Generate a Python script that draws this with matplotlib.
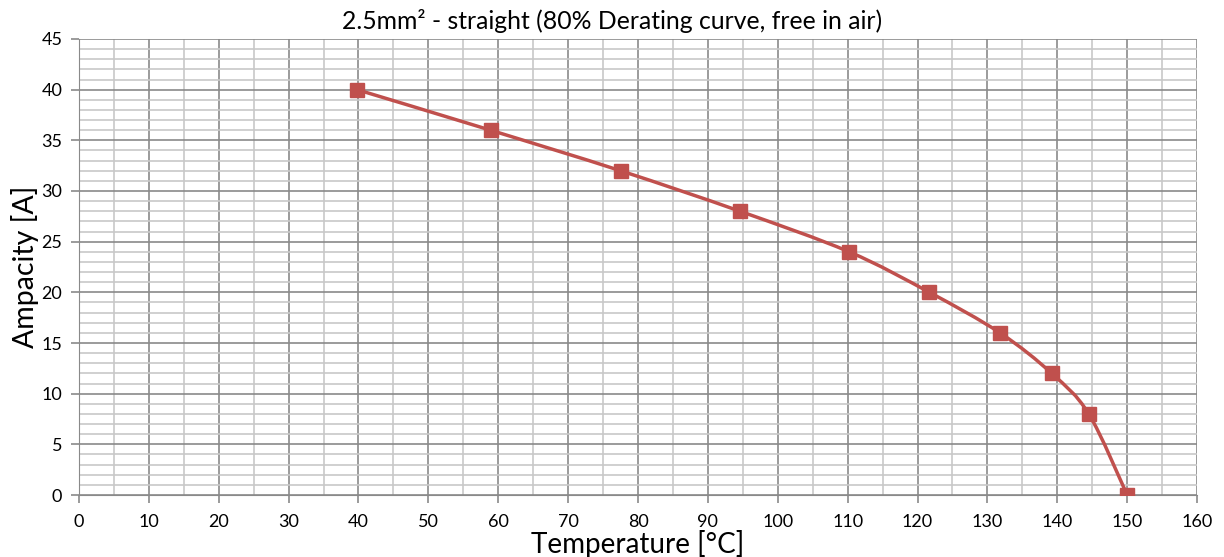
import numpy as np
import matplotlib.pyplot as plt
from matplotlib.path import Path
from matplotlib.patches import PathPatch

# Datos
temp = [39.8, 58.9, 77.5, 94.6, 110.2, 121.7, 131.8, 139.2, 144.5, 150.0]
amp = [40, 36, 32, 28, 24, 20, 16, 12, 8, 0]

red = '#C0504D'
plt.rcParams['font.family'] = ['Lato', 'DejaVu Sans']

fig = plt.figure(figsize=(12.24, 5.57), dpi=100)
ax = fig.add_axes([0.0645, 0.1113, 0.9135, 0.8187])

# curva suavizada tipo Excel (Bezier por Catmull-Rom)
P = np.column_stack([temp, amp]).astype(float)
verts = [tuple(P[0])]
codes = [Path.MOVETO]
for i in range(len(P) - 1):
    p0 = P[i - 1] if i > 0 else P[i]
    p1, p2 = P[i], P[i + 1]
    p3 = P[i + 2] if i + 2 < len(P) else P[i + 1]
    c1 = p1 + (p2 - p0) / 6.0
    c2 = p2 - (p3 - p1) / 6.0
    verts += [tuple(c1), tuple(c2), tuple(p2)]
    codes += [Path.CURVE4] * 3
ax.add_patch(PathPatch(Path(verts, codes), fill=False, edgecolor=red, lw=2.5, zorder=3))
ax.plot(temp, amp, ls='none', marker='s', ms=10, color=red, zorder=4)

ax.set_xlim(0, 160)
ax.set_ylim(0, 45)
ax.set_xticks(np.arange(0, 161, 10))
ax.set_yticks(np.arange(0, 46, 5))
ax.set_xticks(np.arange(0, 161, 5), minor=True)
ax.set_yticks(np.arange(0, 46, 1), minor=True)
ax.grid(which='minor', color='#c8c8c8', lw=1.2)
ax.grid(which='major', color='#8a8a8a', lw=1.2)
ax.set_axisbelow(True)
for s in ax.spines.values():
    s.set_visible(False)
ax.spines['left'].set_visible(True)
ax.spines['bottom'].set_visible(True)
ax.spines['left'].set_color('#8a8a8a')
ax.spines['bottom'].set_color('#8a8a8a')
ax.tick_params(which='major', length=6, color='#8a8a8a', labelsize=13, width=1.2)
ax.tick_params(axis='x', which='major', pad=8)
ax.tick_params(axis='y', which='major', pad=6)
ax.tick_params(which='minor', length=0)

# título centrado en la figura, como en Excel
fig.text(0.5, 0.962, '2.5mm² - straight (80% Derating curve, free in air)',
         fontsize=17.8, ha='center', va='center')
ax.set_xlabel('Temperature [°C]', fontsize=20, labelpad=0)
ax.set_ylabel('Ampacity [A]', fontsize=20.5, labelpad=2)

fig.savefig('out.png', dpi=100)
